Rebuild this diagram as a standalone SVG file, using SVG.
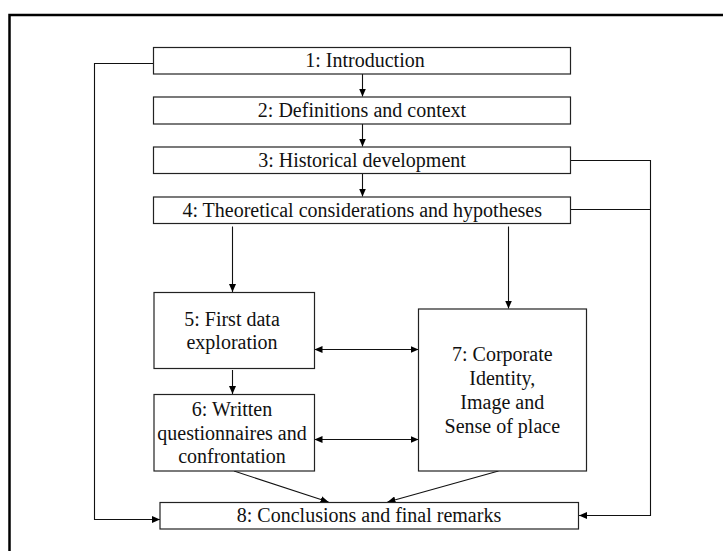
<svg xmlns="http://www.w3.org/2000/svg" width="723" height="551" viewBox="0 0 723 551">
<style>
.box{fill:#fff;stroke:#222;stroke-width:1.2}
.frame{fill:none;stroke:#000;stroke-width:2.5}
.t{font-family:"Liberation Serif","Times New Roman",serif;font-size:20px;fill:#111;text-anchor:middle}
.c{fill:none;stroke:#111;stroke-width:1.1}
</style>
<defs>
<marker id="ah" markerUnits="userSpaceOnUse" markerWidth="8" markerHeight="7" refX="8" refY="3.5" orient="auto-start-reverse">
<path d="M0,0 L8,3.5 L0,7 z" fill="#000"/>
</marker>
</defs>
<rect width="723" height="551" fill="#fff"/>
<rect class="frame" x="9.5" y="15" width="730" height="560"/>

<g id="connectors">
<line class="c" x1="362.5" y1="74" x2="362.5" y2="96.5" marker-end="url(#ah)"/>
<line class="c" x1="362.5" y1="124" x2="362.5" y2="146.5" marker-end="url(#ah)"/>
<line class="c" x1="362.5" y1="173.5" x2="362.5" y2="196.5" marker-end="url(#ah)"/>
<line class="c" x1="232.5" y1="226.5" x2="232.5" y2="292" marker-end="url(#ah)"/>
<line class="c" x1="508.5" y1="226.5" x2="508.5" y2="308.5" marker-end="url(#ah)"/>
<line class="c" x1="232.5" y1="370" x2="232.5" y2="394" marker-end="url(#ah)"/>
<line class="c" x1="314.5" y1="349.5" x2="418.5" y2="349.5" marker-start="url(#ah)" marker-end="url(#ah)"/>
<line class="c" x1="314.5" y1="439.5" x2="418.5" y2="439.5" marker-start="url(#ah)" marker-end="url(#ah)"/>
<line class="c" x1="234" y1="471" x2="328.5" y2="502" marker-end="url(#ah)"/>
<line class="c" x1="498.5" y1="471" x2="387.5" y2="502" marker-end="url(#ah)"/>
<polyline class="c" points="153.5,63.5 94.5,63.5 94.5,519.5 160,519.5" marker-end="url(#ah)"/>
<polyline class="c" points="570.5,160.5 650.5,160.5 650.5,515.5 579,515.5" marker-end="url(#ah)"/>
<line class="c" x1="570.5" y1="209.5" x2="650.5" y2="209.5"/>
</g>

<g id="n1">
<rect class="box" x="153.5" y="47.5" width="417" height="26.5"/>
<text class="t" x="365" y="67.3">1: Introduction</text>
</g>
<g id="n2">
<rect class="box" x="153.5" y="97" width="417" height="27"/>
<text class="t" x="362" y="117.3">2: Definitions and context</text>
</g>
<g id="n3">
<rect class="box" x="153.5" y="147" width="417" height="26.5"/>
<text class="t" x="362" y="166.7">3: Historical development</text>
</g>
<g id="n4">
<rect class="box" x="153.5" y="197" width="417" height="26.5"/>
<text class="t" x="362.2" y="216.7">4: Theoretical considerations and hypotheses</text>
</g>
<g id="n5">
<rect class="box" x="154" y="292.5" width="160.5" height="76"/>
<text class="t" x="232" y="325.7">5: First data</text>
<text class="t" x="232" y="349">exploration</text>
</g>
<g id="n6">
<rect class="box" x="154" y="394.5" width="160.5" height="76.5"/>
<text class="t" x="232" y="416">6: Written</text>
<text class="t" x="232" y="439.8">questionnaires and</text>
<text class="t" x="232" y="463.3">confrontation</text>
</g>
<g id="n7">
<rect class="box" x="418.5" y="309" width="168" height="162"/>
<text class="t" x="502.3" y="361">7: Corporate</text>
<text class="t" x="502.3" y="385.3">Identity,</text>
<text class="t" x="502.3" y="409">Image and</text>
<text class="t" x="502.3" y="432.7">Sense of place</text>
</g>
<g id="n8">
<rect class="box" x="160" y="502.5" width="418.5" height="26.5"/>
<text class="t" x="369" y="522.3">8: Conclusions and final remarks</text>
</g>
</svg>
